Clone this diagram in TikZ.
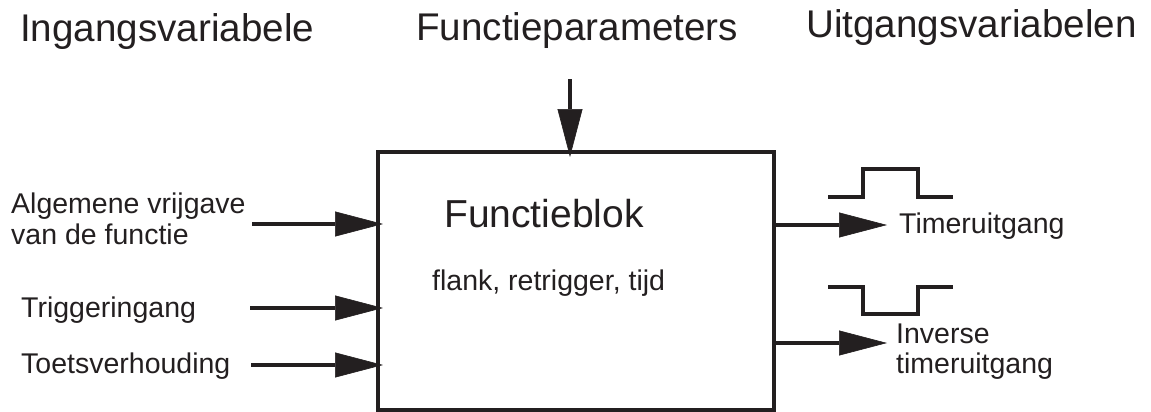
\documentclass[tikz,border=0pt]{standalone}
\usepackage{fontspec}
\setmainfont{Liberation Sans}
\usetikzlibrary{arrows.meta}
\definecolor{ink}{RGB}{35,31,32}
\tikzset{
  title/.style={anchor=base west, inner sep=0pt, text=ink, font=\fontsize{38.6}{46}\selectfont},
  label/.style={anchor=base west, inner sep=0pt, text=ink, align=left, font=\fontsize{28.5}{31}\selectfont},
  boxtitle/.style={anchor=base west, inner sep=0pt, text=ink, font=\fontsize{39}{46}\selectfont},
  fblock/.style={draw=ink, line width=4.5pt, minimum width=396pt, minimum height=258pt, inner sep=0pt, outer sep=0pt},
  flow/.style={draw=ink, line width=4pt,
    -{Triangle[length=48pt, width=25pt, line width=0.6pt, color=ink, fill=ink]}},
  pulse/.style={draw=ink, line width=3.4pt}
}
\begin{document}
\begin{tikzpicture}[x=1pt, y=-1pt]
\useasboundingbox (0,0) rectangle (1151,412);

% column headings
\node[title] (hin)  at (20,42)  {Ingangsvariabele};
\node[title] (hpar) at (416,41) {Functieparameters};
\node[title] (hout) at (806,38) {Uitgangsvariabelen};

% the function block
\node[fblock] (box) at (576,281) {};
\node[boxtitle] (bname) at (444,227) {Functieblok};
\node[label] (bpar) at (432,290) {flank, retrigger, tijd};

% inputs (a multi-line label sits on the baseline of its last line)
\node[label] (lena)  at (11,244) {Algemene vrijgave\\van de functie};
\node[label] (ltrig) at (21,317) {Triggeringang};
\node[label] (lduty) at (21,373) {Toetsverhouding};

\coordinate (ena)  at (252,224);
\coordinate (trig) at (250,308);
\coordinate (duty) at (251,365);
\coordinate (par)  at (570,79);

\draw[flow, shorten >=-5pt] (ena)  -- (ena -| box.west);
\draw[flow, shorten >=-5pt] (trig) -- (trig -| box.west);
\draw[flow, shorten >=-5pt] (duty) -- (duty -| box.west);
\draw[flow, shorten >=-5pt] (par)  -- (par |- box.north);

% outputs
\coordinate (tout)  at (887,225);
\coordinate (tinv)  at (887,343);
\draw[flow] (tout -| box.east) -- (tout);
\draw[flow] (tinv -| box.east) -- (tinv);

\node[label] (ltout) at (899,233) {Timeruitgang};
\node[label, font=\fontsize{28.5}{30}\selectfont] (ltinv) at (896,373) {Inverse\\timeruitgang};

% output waveforms
\draw[pulse] (828,197) -- (863,197) -- (863,169) -- (918,169) -- (918,197) -- (953,197);
\draw[pulse] (828,287) -- (863,287) -- (863,314) -- (918,314) -- (918,287) -- (953,287);
\end{tikzpicture}
\end{document}
